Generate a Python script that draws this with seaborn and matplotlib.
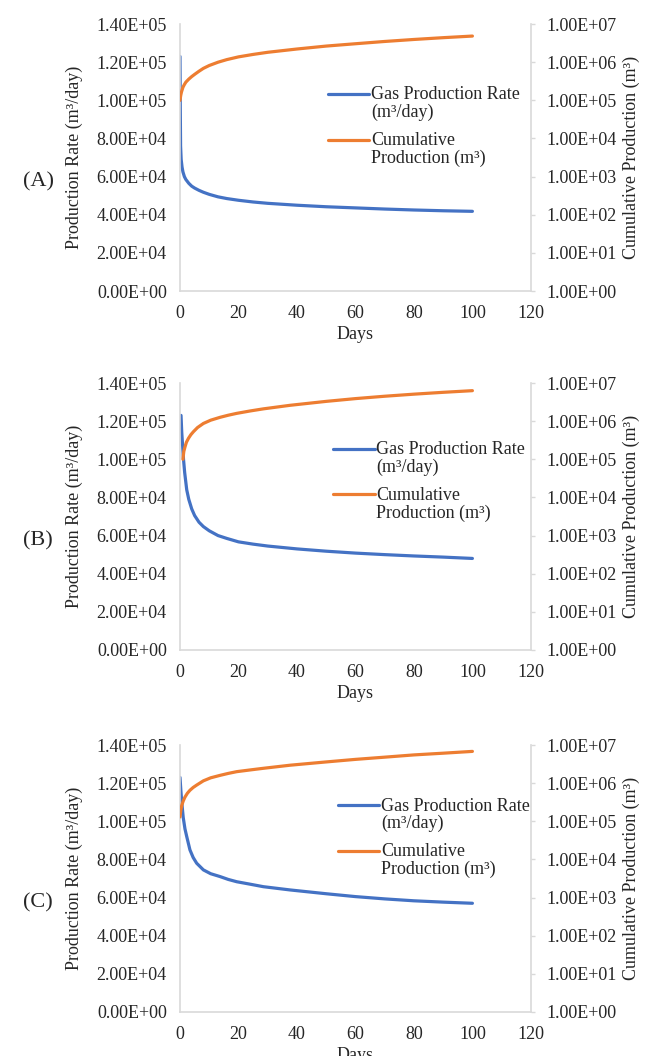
import matplotlib
matplotlib.use("Agg")
import matplotlib.pyplot as plt
import seaborn as sns
from matplotlib.lines import Line2D
from matplotlib.legend_handler import HandlerLine2D
from matplotlib.ticker import FixedLocator, FuncFormatter, NullLocator

# ---- data ----

# (A)
days_rate_a = [0, 0.1, 0.2, 0.4, 0.7, 1, 1.5, 2, 3, 4, 5, 6.5, 8, 10, 13, 16, 20, 25, 30,
               40, 50, 60, 70, 80, 90, 100]
rate_a = [1.23e5, 9.5e4, 7.6e4, 6.9e4, 6.5e4, 6.25e4, 6.0e4, 5.85e4, 5.65e4, 5.5e4, 5.4e4,
          5.28e4, 5.18e4, 5.07e4, 4.94e4, 4.85e4, 4.76e4, 4.67e4, 4.6e4,
          4.5e4, 4.42e4, 4.36e4, 4.3e4, 4.25e4, 4.21e4, 4.18e4]
days_cum_a = [0, 0.25, 0.5, 1, 1.5, 2, 3, 4, 5, 6.5, 8, 10, 13, 16, 20, 25, 30,
              40, 50, 60, 70, 80, 90, 100]
cum_a = [1.0e5, 1.35e5, 1.65e5, 2.2e5, 2.6e5, 3.0e5, 3.6e5, 4.2e5, 4.8e5, 5.8e5, 6.9e5,
         8.2e5, 1.0e6, 1.17e6, 1.38e6, 1.6e6, 1.82e6,
         2.22e6, 2.65e6, 3.05e6, 3.5e6, 3.95e6, 4.4e6, 4.85e6]

# (B)
days_rate_b = [0.35, 0.6, 0.9, 1.2, 1.6, 2.3, 3, 4, 5, 6.5, 8, 10, 13, 16, 20, 25, 30,
               40, 50, 60, 70, 80, 90, 100]
rate_b = [1.23e5, 1.14e5, 1.07e5, 1.0e5, 9.3e4, 8.4e4, 7.9e4, 7.4e4, 7.05e4, 6.7e4, 6.47e4,
          6.25e4, 6.0e4, 5.85e4, 5.67e4, 5.55e4, 5.45e4,
          5.3e4, 5.18e4, 5.08e4, 5.0e4, 4.93e4, 4.87e4, 4.8e4]
days_cum_b = [1, 1.3, 1.7, 2.2, 2.9, 3.7, 4.6, 6, 8, 10.5, 13.7, 16.5, 19.4, 24, 28.5,
              37.6, 50, 60, 70, 80, 90, 100]
cum_b = [1.0e5, 1.6e5, 2.1e5, 2.8e5, 3.55e5, 4.4e5, 5.3e5, 6.8e5, 8.7e5, 1.06e6, 1.26e6,
         1.43e6, 1.6e6, 1.85e6, 2.1e6, 2.6e6, 3.3e6, 3.9e6, 4.5e6, 5.1e6, 5.7e6, 6.3e6]

# (C)
days_rate_c = [0, 0.3, 0.6, 1.1, 1.7, 2.3, 3.4, 4.5, 5.7, 8, 10.5, 13.7, 16.5, 19.4, 24,
               28.5, 37.6, 50, 60, 70, 80, 90, 100]
rate_c = [1.23e5, 1.16e5, 1.1e5, 1.02e5, 9.6e4, 9.2e4, 8.5e4, 8.1e4, 7.8e4, 7.45e4, 7.25e4,
          7.1e4, 6.95e4, 6.83e4, 6.7e4, 6.57e4, 6.4e4, 6.2e4, 6.05e4, 5.93e4, 5.83e4,
          5.76e4, 5.7e4]
days_cum_c = [0, 0.3, 0.6, 1.1, 1.7, 2.5, 3.4, 4.5, 5.7, 8, 10.5, 13.7, 16.5, 19.4, 24,
              28.5, 37.6, 50, 60, 70, 80, 90, 100]
cum_c = [1.3e5, 2.0e5, 2.6e5, 3.4e5, 4.3e5, 5.4e5, 6.5e5, 7.7e5, 8.9e5, 1.15e6, 1.38e6,
         1.6e6, 1.8e6, 2.0e6, 2.22e6, 2.45e6, 2.95e6, 3.6e6, 4.2e6, 4.8e6, 5.5e6,
         6.1e6, 6.8e6]

panel_names = ["(A)", "(B)", "(C)"]
x_ticks = [0, 20, 40, 60, 80, 100, 120]
rate_ticks = [0, 2e4, 4e4, 6e4, 8e4, 1e5, 1.2e5, 1.4e5]
cum_ticks = [1e0, 1e1, 1e2, 1e3, 1e4, 1e5, 1e6, 1e7]
legend_labels = ["Gas Production Rate\n(m\u00b3/day)", "Cumulative\nProduction (m\u00b3)"]

panels = [
    (days_rate_a, rate_a, days_cum_a, cum_a),
    (days_rate_b, rate_b, days_cum_b, cum_b),
    (days_rate_c, rate_c, days_cum_c, cum_c),
]

# ---- style ----
sns.set_style("white")
plt.rcParams["font.family"] = ["Liberation Serif", "DejaVu Serif"]
plt.rcParams["font.size"] = 13

blue = "#4472C4"
orange = "#ED7D31"
grey = "#D9D9D9"

fig = plt.figure(figsize=(6.51, 10.56), dpi=100)

# axes boxes in figure fractions (left, bottom, width, height)
boxes = [(0.2765, 0.7244, 0.539, 0.2528),
         (0.2765, 0.3845, 0.539, 0.2528),
         (0.2765, 0.0417, 0.539, 0.2528)]
legend_pos = [(0.4217, 0.615), (0.436, 0.630), (0.45, 0.652)]

fmt = FuncFormatter(lambda v, p: f"{v:.2E}")

for i, (dr, r, dc, c) in enumerate(panels):
    ax = fig.add_axes(boxes[i])
    ax2 = ax.twinx()

    sns.lineplot(x=dr, y=r, ax=ax, color=blue, linewidth=2.3, legend=False)
    sns.lineplot(x=dc, y=c, ax=ax2, color=orange, linewidth=2.3, legend=False)

    ax.set_xlim(0, 120)
    ax.set_ylim(0, 1.4e5)
    ax.xaxis.set_major_locator(FixedLocator(x_ticks))
    ax.yaxis.set_major_locator(FixedLocator(rate_ticks))
    ax.yaxis.set_major_formatter(fmt)

    ax2.set_yscale("log")
    ax2.set_ylim(1, 1e7)
    ax2.yaxis.set_major_locator(FixedLocator(cum_ticks))
    ax2.yaxis.set_minor_locator(NullLocator())
    ax2.yaxis.set_major_formatter(fmt)

    for s in ["top", "right"]:
        ax.spines[s].set_visible(False)
    for s in ["left", "bottom"]:
        ax.spines[s].set_color(grey)
        ax.spines[s].set_linewidth(1.2)
    for s in ["top", "left", "bottom"]:
        ax2.spines[s].set_visible(False)
    ax2.spines["right"].set_color(grey)
    ax2.spines["right"].set_linewidth(1.2)

    ax.tick_params(axis="x", length=0, pad=10, labelsize=13)
    ax.tick_params(axis="y", length=0, pad=9.5, labelsize=13)
    ax2.tick_params(axis="y", length=3, width=1, color=grey, direction="out", pad=8.5, labelsize=13)

    ax.set_xlabel("Days", fontsize=13, labelpad=3)
    ax.set_ylabel("Production Rate (m\u00b3/day)", fontsize=13, labelpad=9.5)
    ax2.set_ylabel("Cumulative Production (m\u00b3)", fontsize=13, labelpad=4)

    ax.text(-0.4046, 0.408, panel_names[i], transform=ax.transAxes,
            ha="center", va="center", fontsize=16)

    h1 = ax.get_lines()[0]
    h2 = ax2.get_lines()[0]
    leg = ax2.legend([h1, h2], legend_labels, loc="center left",
                     bbox_to_anchor=legend_pos[i], frameon=False, fontsize=13,
                     handlelength=2.3, handletextpad=0.1, labelspacing=0.6,
                     borderpad=0, borderaxespad=0,
                     handler_map={Line2D: HandlerLine2D(ypad=-0.5)})
    for t in leg.get_texts():
        t.set_linespacing(1.05)
    # put the legend line next to the first text line, as in the original
    for ln in leg.legend_handles:
        ln.set_ydata([y + 7.5 for y in ln.get_ydata()])

fig.savefig("out.png", dpi=100)
